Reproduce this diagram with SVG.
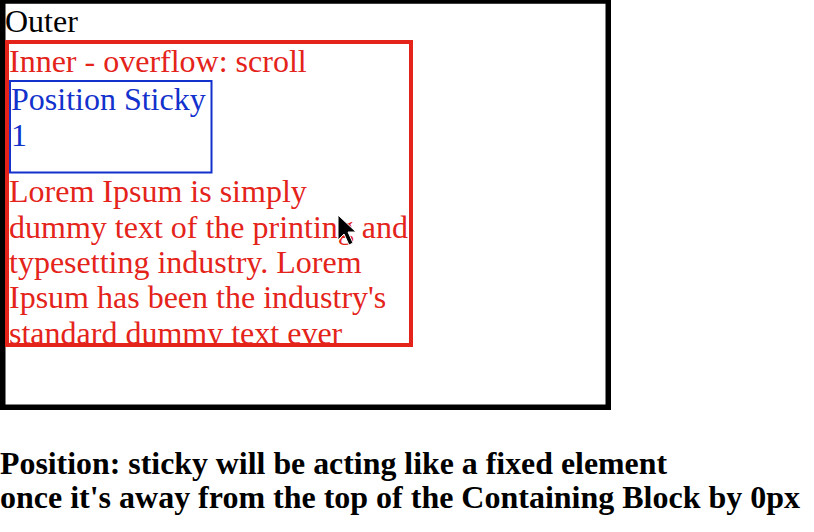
<svg xmlns="http://www.w3.org/2000/svg" width="814" height="532" viewBox="0 0 814 532">
<style>
text{font-family:"Liberation Serif","Times New Roman",serif;font-size:32px}
.red{fill:#e4231a}
.blue{fill:#1331cc}
.bold{font-weight:bold;fill:#000}
</style>
<defs>
<clipPath id="innerClip"><rect x="9" y="44" width="400" height="299"/></clipPath>
</defs>
<rect x="0" y="0" width="814" height="532" fill="#fff"/>
<g id="outer">
<rect x="2.75" y="1" width="605.5" height="406.25" fill="none" stroke="#000" stroke-width="5.5"/>
<text x="5" y="32" fill="#000">Outer</text>
</g>
<g id="inner">
<rect x="7" y="42" width="404" height="303" fill="none" stroke="#e4231a" stroke-width="4"/>
<text class="red" x="9" y="72">Inner - overflow: scroll</text>
<g clip-path="url(#innerClip)">
<text class="red" x="9" y="202">Lorem Ipsum is simply</text>
<text class="red" x="9" y="238">dummy text of the printing and</text>
<text class="red" x="9" y="273">typesetting industry. Lorem</text>
<text class="red" x="9" y="308">Ipsum has been the industry's</text>
<text class="red" x="9" y="343.5">standard dummy text ever</text>
</g>
</g>
<g id="sticky">
<rect x="10" y="81" width="201.5" height="91.5" fill="none" stroke="#1331cc" stroke-width="2"/>
<text class="blue" x="11" y="110">Position Sticky</text>
<text class="blue" x="11" y="146">1</text>
</g>
<g id="cursor">
<path d="M338,215 L338,240 L344,234 L349,245 L353,243 L348,232 L356,232 Z" fill="#000" stroke="#fff" stroke-width="1"/>
</g>
<g id="caption">
<text class="bold" x="0" y="474" textLength="667" lengthAdjust="spacingAndGlyphs">Position: sticky will be acting like a fixed element</text>
<text class="bold" x="0" y="508" textLength="800" lengthAdjust="spacingAndGlyphs">once it's away from the top of the Containing Block by 0px</text>
</g>
</svg>
